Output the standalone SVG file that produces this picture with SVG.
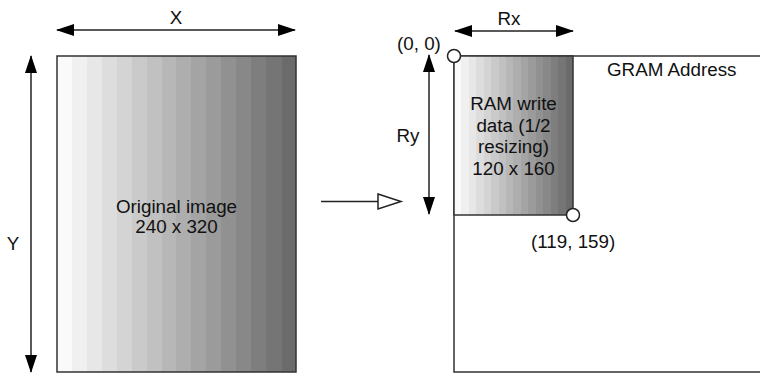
<svg xmlns="http://www.w3.org/2000/svg" width="760" height="373" viewBox="0 0 760 373">
<style>
text{font-family:"Liberation Sans",Arial,sans-serif;font-size:18.8px;fill:#111}
.ln{stroke:#222;stroke-width:1.5;fill:none}
.bd{stroke:#333;stroke-width:1.5}
.fl{fill:url(#g)}
.nf{fill:none}
</style>
<defs>
<marker id="ah" markerUnits="userSpaceOnUse" markerWidth="18" markerHeight="12" refX="17" refY="6" orient="auto-start-reverse">
<path d="M0,0 L18,6 L0,12 z" fill="#000"/>
</marker>
<linearGradient id="g" x1="0" y1="0" x2="1" y2="0">
<stop offset="0" stop-color="#fafafa"/><stop offset="0.0625" stop-color="#fafafa"/>
<stop offset="0.0625" stop-color="#f0f0f0"/><stop offset="0.125" stop-color="#f0f0f0"/>
<stop offset="0.125" stop-color="#e7e7e7"/><stop offset="0.1875" stop-color="#e7e7e7"/>
<stop offset="0.1875" stop-color="#dddddd"/><stop offset="0.25" stop-color="#dddddd"/>
<stop offset="0.25" stop-color="#d4d4d4"/><stop offset="0.3125" stop-color="#d4d4d4"/>
<stop offset="0.3125" stop-color="#cacaca"/><stop offset="0.375" stop-color="#cacaca"/>
<stop offset="0.375" stop-color="#c1c1c1"/><stop offset="0.4375" stop-color="#c1c1c1"/>
<stop offset="0.4375" stop-color="#b7b7b7"/><stop offset="0.5" stop-color="#b7b7b7"/>
<stop offset="0.5" stop-color="#aeaeae"/><stop offset="0.5625" stop-color="#aeaeae"/>
<stop offset="0.5625" stop-color="#a4a4a4"/><stop offset="0.625" stop-color="#a4a4a4"/>
<stop offset="0.625" stop-color="#9b9b9b"/><stop offset="0.6875" stop-color="#9b9b9b"/>
<stop offset="0.6875" stop-color="#919191"/><stop offset="0.75" stop-color="#919191"/>
<stop offset="0.75" stop-color="#888888"/><stop offset="0.8125" stop-color="#888888"/>
<stop offset="0.8125" stop-color="#7e7e7e"/><stop offset="0.875" stop-color="#7e7e7e"/>
<stop offset="0.875" stop-color="#757575"/><stop offset="0.94" stop-color="#757575"/>
<stop offset="0.94" stop-color="#6b6b6b"/><stop offset="1" stop-color="#6b6b6b"/>
</linearGradient>
</defs>

<g id="original-image">
<rect x="57" y="56" width="239" height="316" class="bd fl"/>
<text x="176.5" y="212.5" text-anchor="middle">Original image</text>
<text x="176.5" y="233" text-anchor="middle">240 x 320</text>
</g>

<g id="gram">
<path d="M760,56 H454 V372 H760" class="bd nf"/>
<text x="607" y="76">GRAM Address</text>
</g>

<g id="ram-write">
<rect x="454" y="56" width="119" height="159" class="bd fl"/>
<text x="513.5" y="109.5" text-anchor="middle">RAM write</text>
<text x="513.5" y="131.5" text-anchor="middle">data (1/2</text>
<text x="513.5" y="153" text-anchor="middle">resizing)</text>
<text x="513.5" y="174.5" text-anchor="middle">120 x 160</text>
</g>

<g id="origin">
<circle cx="454" cy="56" r="6.5" fill="#fff" stroke="#222" stroke-width="1.5"/>
<text x="397" y="50">(0, 0)</text>
</g>

<g id="corner">
<circle cx="573" cy="215" r="6.5" fill="#fff" stroke="#222" stroke-width="1.5"/>
<text x="531" y="247.5">(119, 159)</text>
</g>

<g id="labels">
<text x="176" y="24" text-anchor="middle">X</text>
<text x="13" y="249.5" text-anchor="middle">Y</text>
<text x="509" y="25" text-anchor="middle">Rx</text>
<text x="408" y="141.5" text-anchor="middle">Ry</text>
</g>

<g id="connectors">
<line x1="57" y1="30" x2="295" y2="30" class="ln" marker-start="url(#ah)" marker-end="url(#ah)"/>
<line x1="31" y1="56" x2="31" y2="372" class="ln" marker-start="url(#ah)" marker-end="url(#ah)"/>
<line x1="455" y1="31" x2="573" y2="31" class="ln" marker-start="url(#ah)" marker-end="url(#ah)"/>
<line x1="429" y1="55" x2="429" y2="214" class="ln" marker-start="url(#ah)" marker-end="url(#ah)"/>
<line x1="321" y1="201.5" x2="378" y2="201.5" class="ln"/>
<path d="M378,194 L401,201.5 L378,209 z" fill="#fff" stroke="#222" stroke-width="1.5"/>
</g>
</svg>
